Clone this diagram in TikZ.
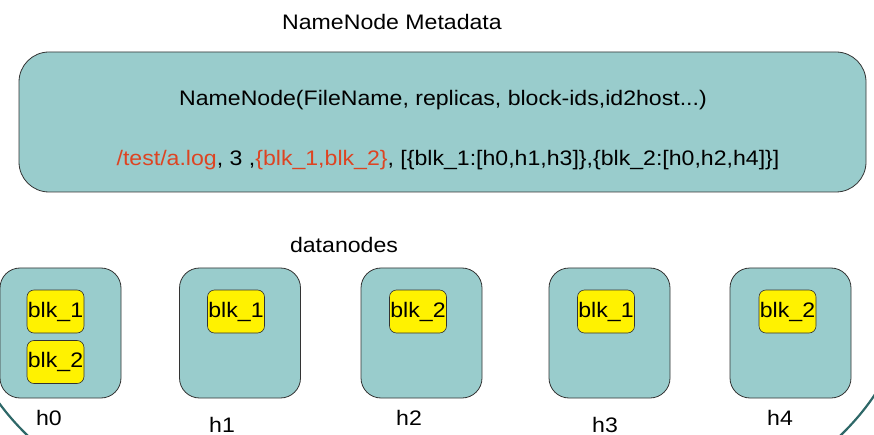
\documentclass[tikz,border=0pt]{standalone}
\usepackage{fontspec}
\setmainfont{Liberation Sans}
\definecolor{teal1}{HTML}{99CCCC}
\definecolor{arcc}{HTML}{2E6868}
\definecolor{orng}{HTML}{DD4422}
\newcommand{\wtxt}[1]{\scalebox{1.1}[1]{#1}}
\begin{document}
\begin{tikzpicture}[x=1pt,y=-1pt,
  txt/.style={font=\fontsize{21}{24}\selectfont, inner sep=0pt, anchor=base},
  bigbox/.style={draw=black!80, line width=0.8pt, fill=teal1, rounded corners=30pt, minimum width=847pt, minimum height=140pt, inner sep=0pt},
  dnbox/.style={draw=black!80, line width=0.8pt, fill=teal1, rounded corners=20pt, minimum width=121pt, minimum height=130pt, inner sep=0pt},
  blkbox/.style={draw=black!80, line width=0.6pt, fill=yellow, rounded corners=7pt, minimum width=57pt, minimum height=43pt, inner sep=0pt, font=\fontsize{21}{24}\selectfont}]
\useasboundingbox (0,0) rectangle (874,435);
\begin{scope}
\clip (0,380) rectangle (874,435);
\draw[arcc, line width=2.2pt] (434,300) ellipse [x radius=471, y radius=268];
\end{scope}
\node[txt] (title) at (392,30) {\wtxt{NameNode Metadata}};
\node[bigbox] (nn) at (442.5,122) {};
\node[txt] (l1) at (443,106) {\wtxt{NameNode(FileName, replicas, block-ids,id2host...)}};
\node[txt] (l2) at (448,166) {\wtxt{\textcolor{orng}{/test/a.log}, 3 ,\textcolor{orng}{\{blk\_1,blk\_2\}}, [\{blk\_1:[h0,h1,h3]\},\{blk\_2:[h0,h2,h4]\}]}};
\node[txt] (dn) at (344,253) {\wtxt{datanodes}};
\node[dnbox] (h0) at (60.5,333) {};
\node[dnbox] (h1) at (240,333) {};
\node[dnbox] (h2) at (421.5,333) {};
\node[dnbox] (h3) at (609.5,333) {};
\node[dnbox] (h4) at (790.5,333) {};
\node[blkbox] (b01) at (55.5,311.5) {\wtxt{blk\_1}};
\node[blkbox] (b02) at (55.5,362) {\wtxt{blk\_2}};
\node[blkbox] (b11) at (236,311.5) {\wtxt{blk\_1}};
\node[blkbox] (b22) at (418,311.5) {\wtxt{blk\_2}};
\node[blkbox] (b31) at (606,311.5) {\wtxt{blk\_1}};
\node[blkbox] (b42) at (787.5,311.5) {\wtxt{blk\_2}};
\node[txt] (t0) at (49,425) {\wtxt{h0}};
\node[txt] (t1) at (222,432) {\wtxt{h1}};
\node[txt] (t2) at (409,425) {\wtxt{h2}};
\node[txt] (t3) at (605,432) {\wtxt{h3}};
\node[txt] (t4) at (780,425) {\wtxt{h4}};
\end{tikzpicture}
\end{document}
